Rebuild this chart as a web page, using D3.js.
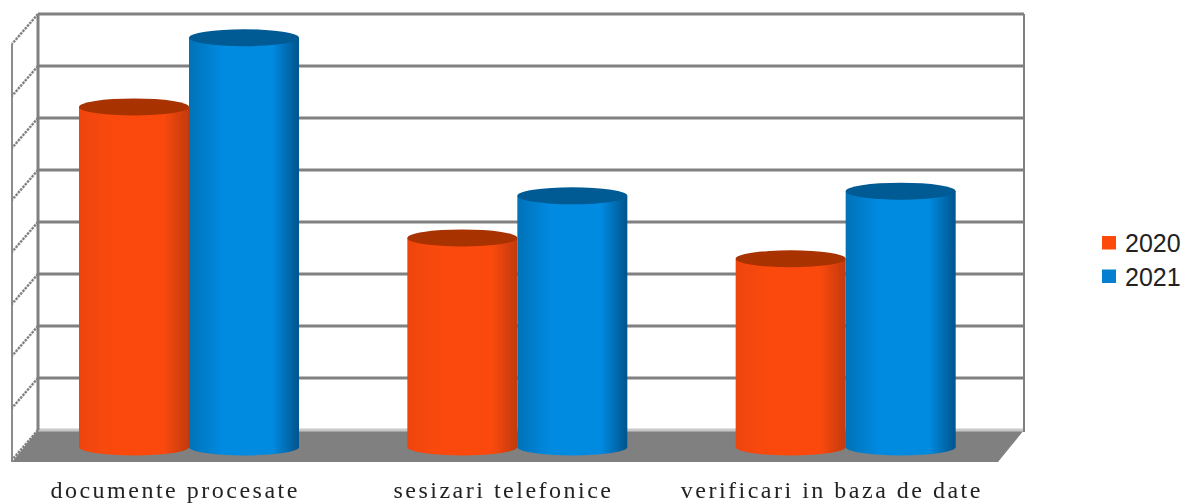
<!DOCTYPE html>
<html><head><meta charset="utf-8"><script src="https://cdn.jsdelivr.net/npm/d3@7"></script>
<style>html,body{margin:0;padding:0;background:#fff;overflow:hidden}svg{display:block}</style></head>
<body><svg id="c" width="1186" height="504"></svg>
<script>
const categories = ["documente procesate", "sesizari telefonice", "verificari in baza de date"];
const seriesNames = ["2020", "2021"];
const values2020 = [6.54, 4.02, 3.62];
const values2021 = [7.87, 4.83, 4.92];
const gridTicks = [0, 1, 2, 3, 4, 5, 6, 7, 8];
const seriesColors = ["#fb4a0c", "#008ae0"];
const seriesDark = ["#a83000", "#005a94"];
const seriesEdge = ["#c23a08", "#00548c"];
const seriesLeft = ["#ee4408", "#0572b8"];
const legendColors = ["#fb4a0c", "#0580d0"];

const svg = d3.select("#c");
const wall = {x0: 38, x1: 1024, dx: -26, dy: 30};
const y = d3.scaleLinear().domain([0, 8]).range([430, 14]);
const x = d3.scaleBand().domain(categories).range([25, 1010]).paddingInner(0).paddingOuter(0);
const xIn = d3.scaleBand().domain(seriesNames).range([54, 274]);
const barBase = 447;
const barUnit = (y(0) - y(8)) / 8;

const defs = svg.append("defs");
defs.append("filter").attr("id","soft").attr("x","-5%").attr("y","-5%").attr("width","110%").attr("height","110%")
  .append("feGaussianBlur").attr("stdDeviation",0.7);
seriesNames.forEach((s,i)=>{
  const g = defs.append("linearGradient").attr("id","g"+i);
  [[0,seriesLeft[i]],[0.3,seriesColors[i]],[0.76,seriesColors[i]],[1,seriesEdge[i]]]
    .forEach(([o,c])=>g.append("stop").attr("offset",o).attr("stop-color",c));
});

const root = svg.append("g").attr("filter","url(#soft)");

// floor
root.append("path")
  .attr("d", d3.line()([[wall.x0,y(0)],[wall.x1,y(0)],[wall.x1+wall.dx,y(0)+wall.dy+2],[wall.x0+wall.dx,y(0)+wall.dy+2]]))
  .attr("fill","#808080");

// grid
root.append("g").selectAll("line").data(gridTicks).join("line")
  .attr("x1",wall.x0).attr("x2",wall.x1)
  .attr("y1",d=>y(d)).attr("y2",d=>y(d))
  .attr("stroke",d=>d===0?"#c8c8c8":"#808080").attr("stroke-width",2.8);
root.append("g").selectAll("line").data(gridTicks).join("line")
  .attr("x1",wall.x0).attr("x2",wall.x0+wall.dx)
  .attr("y1",d=>y(d)).attr("y2",d=>y(d)+wall.dy)
  .attr("stroke","#808080").attr("stroke-width",2.4).attr("stroke-dasharray","2.5 1");
[[wall.x0,y(8),wall.x0,y(0),3],[wall.x1,y(8),wall.x1,y(0)+2,2],[wall.x0+wall.dx,y(8)+wall.dy,wall.x0+wall.dx,y(0)+wall.dy+2,1.8]]
  .forEach(([a,b,c,d,w])=>root.append("line").attr("x1",a).attr("y1",b).attr("x2",c).attr("y2",d).attr("stroke","#808080").attr("stroke-width",w));

// cylinders
const rows = categories.flatMap((c,i)=>seriesNames.map((s,j)=>({c,s,j,v:(j?values2021:values2020)[i]})));
const bars = root.append("g").selectAll("g").data(rows).join("g");
const ry = 8.5;
bars.append("path").attr("fill",d=>`url(#g${d.j})`).attr("d",d=>{
  const l = x(d.c)+xIn(d.s), w = xIn.bandwidth(), top = barBase - d.v*barUnit;
  return `M${l},${top}L${l},${barBase}A${w/2},${ry} 0 0 0 ${l+w},${barBase}L${l+w},${top}Z`;
});
bars.append("ellipse")
  .attr("cx",d=>x(d.c)+xIn(d.s)+xIn.bandwidth()/2)
  .attr("cy",d=>barBase-d.v*barUnit)
  .attr("rx",xIn.bandwidth()/2).attr("ry",ry)
  .attr("fill",d=>seriesDark[d.j]);

// category labels
svg.append("g").selectAll("text").data(categories).join("text")
  .attr("x",d=>x(d)+x.bandwidth()/2-14).attr("y",498)
  .attr("text-anchor","middle")
  .attr("font-family","'Liberation Serif',serif").attr("font-size",24).attr("letter-spacing",2.5)
  .attr("fill","#222").attr("filter","url(#soft)")
  .text(d=>d);

// legend
const leg = svg.append("g").selectAll("g").data(seriesNames).join("g")
  .attr("transform",(d,i)=>`translate(1102,${236+i*33.5})`);
leg.append("rect").attr("width",14).attr("height",13.5).attr("fill",(d,i)=>legendColors[i]);
leg.append("text").attr("x",23).attr("y",16)
  .attr("font-family","'Liberation Sans',sans-serif").attr("font-size",25)
  .attr("fill","#222").text(d=>d);
</script></body></html>
